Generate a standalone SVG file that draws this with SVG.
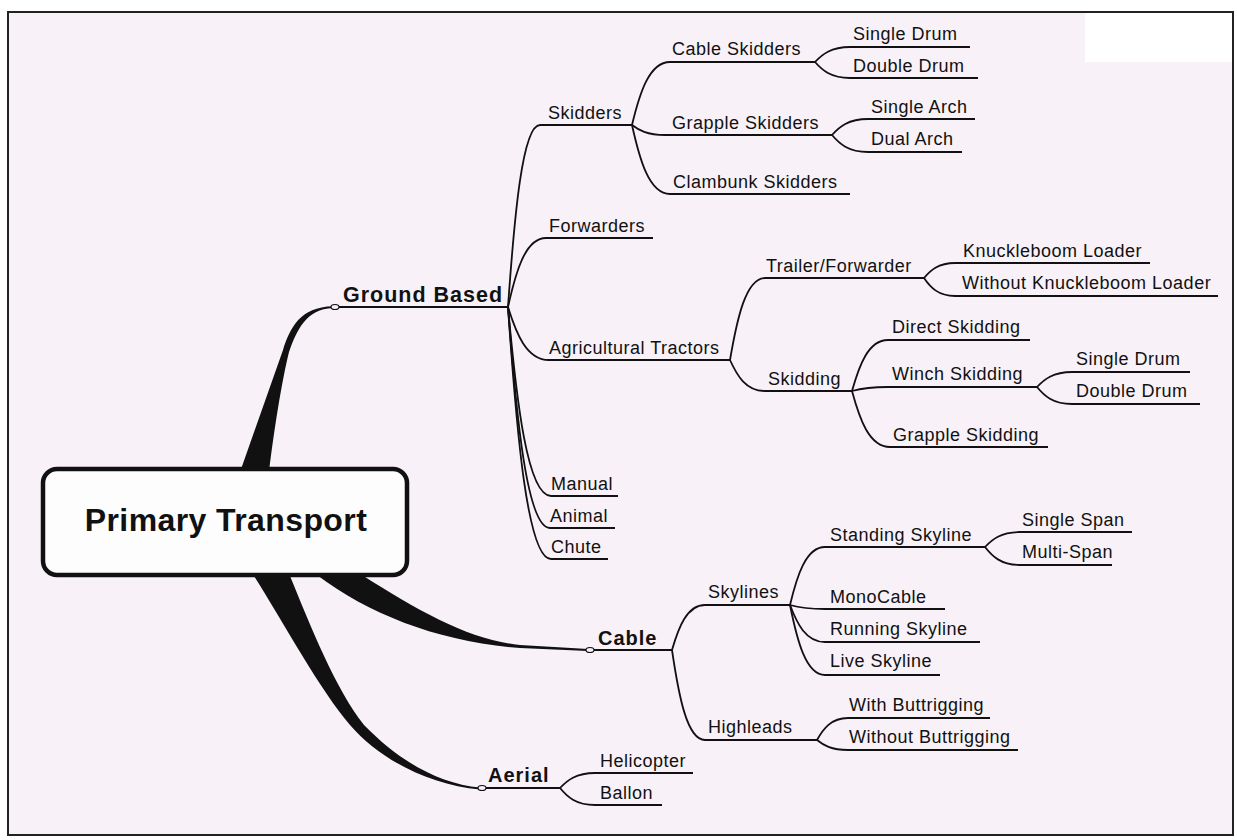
<svg xmlns="http://www.w3.org/2000/svg" width="1237" height="840" viewBox="0 0 1237 840">
<style>
.t{font-family:"Liberation Sans",Arial,sans-serif;font-size:18px;letter-spacing:0.5px;fill:#111}
.b{font-weight:bold;font-size:20px;letter-spacing:1px}
.gb{font-size:21.5px;letter-spacing:1px}
.ln{fill:none;stroke:#111;stroke-width:1.8}
.ul{fill:none;stroke:#111;stroke-width:1.8}
.wedge{fill:#111;stroke:none}
.dot{fill:#f8f2f8;stroke:#111;stroke-width:1.2}
</style>
<rect x="0" y="0" width="1237" height="840" fill="#ffffff"/>
<rect x="8" y="12" width="1225" height="823" fill="#f8f2f8"/>
<rect x="1085" y="13" width="147" height="49" fill="#ffffff"/>
<rect x="8" y="12" width="1225" height="823" fill="none" stroke="#222" stroke-width="2"/>

<g id="connectors">
<path class="wedge" d="M240,472 L283,350 C290,328 300,307 333,306.3 L333,308 C306,309 297,330 289,352 C282,380 274,430 269,472 Z"/>
<path class="wedge" d="M317,575 C370,615 440,642 520,648 L588,651 L588,649 L520,645 C470,640 420,612 362,575 Z"/>
<path class="wedge" d="M254,576 C285,625 320,690 350,725 C380,760 430,785 480,789.5 L480,787.5 C440,784 400,762 364,725 C336,690 310,625 290,576 Z"/>
<path class="ln" d="M508,307 C514.4,216 522.4,125 540,125"/>
<path class="ln" d="M508,307 C515.6,272.5 525.1,238 546,238"/>
<path class="ln" d="M508,307 C516.2,333.5 526.5,360 549,360"/>
<path class="ln" d="M508,307 C516.6,401.5 527.4,496 551,496"/>
<path class="ln" d="M508,307 C516.4,417.5 526.9,528 550,528"/>
<path class="ln" d="M508,307 C516.6,433 527.4,559 551,559"/>
<path class="ln" d="M632,125 C639.6,93.5 649.1,62 670,62"/>
<path class="ln" d="M632,125 C638.6,130 646.9,135 665,135"/>
<path class="ln" d="M632,125 C639.6,159.5 649.1,194 670,194"/>
<path class="ln" d="M815,62 C822,54.5 830.8,47 850,47"/>
<path class="ln" d="M815,62 C822,70 830.8,78 850,78"/>
<path class="ln" d="M832,135 C839.2,127 848.2,119 868,119"/>
<path class="ln" d="M832,135 C839.2,143.5 848.2,152 868,152"/>
<path class="ln" d="M730,360 C737,319 745.8,278 765,278"/>
<path class="ln" d="M730,360 C737,375.5 745.8,391 765,391"/>
<path class="ln" d="M924,278 C930.2,270.5 938,263 955,263"/>
<path class="ln" d="M924,278 C930.2,287 938,296 955,296"/>
<path class="ln" d="M852,391 C859.2,365.5 868.2,340 888,340"/>
<path class="ln" d="M852,391 C859.2,389 868.2,387 888,387"/>
<path class="ln" d="M852,391 C859.6,419 869.1,447 890,447"/>
<path class="ln" d="M1037,387 C1044,379.5 1052.8,372 1072,372"/>
<path class="ln" d="M1037,387 C1044,395.5 1052.8,404 1072,404"/>
<path class="ln" d="M672,650 C678.6,627.5 686.9,605 705,605"/>
<path class="ln" d="M672,650 C678.6,695 686.9,740 705,740"/>
<path class="ln" d="M790,605 C797,576 805.8,547 825,547"/>
<path class="ln" d="M790,605 C797,607 805.8,609 825,609"/>
<path class="ln" d="M790,605 C797,623.5 805.8,642 825,642"/>
<path class="ln" d="M790,605 C797,640 805.8,675 825,675"/>
<path class="ln" d="M985,547 C992,539.5 1000.8,532 1020,532"/>
<path class="ln" d="M985,547 C992,556 1000.8,565 1020,565"/>
<path class="ln" d="M817,740 C823.2,729 831,718 848,718"/>
<path class="ln" d="M817,740 C823.2,745 831,750 848,750"/>
<path class="ln" d="M560,788 C567,780.5 575.8,773 595,773"/>
<path class="ln" d="M560,788 C567,796.5 575.8,805 595,805"/>
</g>

<g id="node-primary-transport">
<rect x="43" y="469" width="364" height="106" rx="14" fill="#fdfdfd" stroke="#111" stroke-width="4.5"/>
<text x="226" y="531" text-anchor="middle" style="font-family:'Liberation Sans',Arial,sans-serif;font-size:32px;font-weight:bold;letter-spacing:0.4px;fill:#111">Primary Transport</text>
</g>

<g id="node-ground-based"><line class="ul" x1="335" y1="307" x2="508" y2="307"/><ellipse class="dot" cx="335" cy="307" rx="4" ry="2.5"/><text class="t b gb" x="343" y="302">Ground Based</text></g>
<g id="node-skidders"><line class="ul" x1="540" y1="125" x2="632" y2="125"/><text class="t" x="548" y="119">Skidders</text></g>
<g id="node-forwarders"><line class="ul" x1="546" y1="238" x2="653" y2="238"/><text class="t" x="549" y="232">Forwarders</text></g>
<g id="node-agricultural-tractors"><line class="ul" x1="549" y1="360" x2="730" y2="360"/><text class="t" x="549" y="354">Agricultural Tractors</text></g>
<g id="node-manual"><line class="ul" x1="551" y1="496" x2="618" y2="496"/><text class="t" x="551" y="490">Manual</text></g>
<g id="node-animal"><line class="ul" x1="550" y1="528" x2="615" y2="528"/><text class="t" x="550" y="522">Animal</text></g>
<g id="node-chute"><line class="ul" x1="551" y1="559" x2="608" y2="559"/><text class="t" x="551" y="553">Chute</text></g>
<g id="node-cable-skidders"><line class="ul" x1="670" y1="62" x2="815" y2="62"/><text class="t" x="672" y="55">Cable Skidders</text></g>
<g id="node-grapple-skidders"><line class="ul" x1="665" y1="135" x2="832" y2="135"/><text class="t" x="672" y="129">Grapple Skidders</text></g>
<g id="node-clambunk-skidders"><line class="ul" x1="670" y1="194" x2="850" y2="194"/><text class="t" x="673" y="188">Clambunk Skidders</text></g>
<g id="node-cs-single-drum"><line class="ul" x1="850" y1="47" x2="970" y2="47"/><text class="t" x="853" y="40">Single Drum</text></g>
<g id="node-cs-double-drum"><line class="ul" x1="850" y1="78" x2="978" y2="78"/><text class="t" x="853" y="72">Double Drum</text></g>
<g id="node-single-arch"><line class="ul" x1="868" y1="119" x2="975" y2="119"/><text class="t" x="871" y="113">Single Arch</text></g>
<g id="node-dual-arch"><line class="ul" x1="868" y1="152" x2="962" y2="152"/><text class="t" x="871" y="145">Dual Arch</text></g>
<g id="node-trailer-forwarder"><line class="ul" x1="765" y1="278" x2="924" y2="278"/><text class="t" x="766" y="272">Trailer/Forwarder</text></g>
<g id="node-knuckleboom-loader"><line class="ul" x1="955" y1="263" x2="1150" y2="263"/><text class="t" x="963" y="257">Knuckleboom Loader</text></g>
<g id="node-without-knuckleboom-loader"><line class="ul" x1="955" y1="296" x2="1218" y2="296"/><text class="t" x="962" y="289">Without Knuckleboom Loader</text></g>
<g id="node-skidding"><line class="ul" x1="765" y1="391" x2="852" y2="391"/><text class="t" x="768" y="385">Skidding</text></g>
<g id="node-direct-skidding"><line class="ul" x1="888" y1="340" x2="1030" y2="340"/><text class="t" x="892" y="333">Direct Skidding</text></g>
<g id="node-winch-skidding"><line class="ul" x1="888" y1="387" x2="1037" y2="387"/><text class="t" x="892" y="380">Winch Skidding</text></g>
<g id="node-grapple-skidding"><line class="ul" x1="890" y1="447" x2="1048" y2="447"/><text class="t" x="893" y="441">Grapple Skidding</text></g>
<g id="node-ws-single-drum"><line class="ul" x1="1072" y1="372" x2="1190" y2="372"/><text class="t" x="1076" y="365">Single Drum</text></g>
<g id="node-ws-double-drum"><line class="ul" x1="1072" y1="404" x2="1200" y2="404"/><text class="t" x="1076" y="397">Double Drum</text></g>
<g id="node-cable"><line class="ul" x1="590" y1="650" x2="672" y2="650"/><ellipse class="dot" cx="590" cy="650" rx="4" ry="2.5"/><text class="t b" x="598" y="645">Cable</text></g>
<g id="node-skylines"><line class="ul" x1="705" y1="605" x2="790" y2="605"/><text class="t" x="708" y="598">Skylines</text></g>
<g id="node-highleads"><line class="ul" x1="705" y1="740" x2="817" y2="740"/><text class="t" x="708" y="733">Highleads</text></g>
<g id="node-standing-skyline"><line class="ul" x1="825" y1="547" x2="985" y2="547"/><text class="t" x="830" y="541">Standing Skyline</text></g>
<g id="node-monocable"><line class="ul" x1="825" y1="609" x2="945" y2="609"/><text class="t" x="830" y="603">MonoCable</text></g>
<g id="node-running-skyline"><line class="ul" x1="825" y1="642" x2="980" y2="642"/><text class="t" x="830" y="635">Running Skyline</text></g>
<g id="node-live-skyline"><line class="ul" x1="825" y1="675" x2="940" y2="675"/><text class="t" x="830" y="667">Live Skyline</text></g>
<g id="node-single-span"><line class="ul" x1="1020" y1="532" x2="1132" y2="532"/><text class="t" x="1022" y="526">Single Span</text></g>
<g id="node-multi-span"><line class="ul" x1="1020" y1="565" x2="1112" y2="565"/><text class="t" x="1022" y="558">Multi-Span</text></g>
<g id="node-with-buttrigging"><line class="ul" x1="848" y1="718" x2="990" y2="718"/><text class="t" x="849" y="711">With Buttrigging</text></g>
<g id="node-without-buttrigging"><line class="ul" x1="848" y1="750" x2="1018" y2="750"/><text class="t" x="849" y="743">Without Buttrigging</text></g>
<g id="node-aerial"><line class="ul" x1="482" y1="788" x2="560" y2="788"/><ellipse class="dot" cx="482" cy="788" rx="4" ry="2.5"/><text class="t b" x="488" y="782">Aerial</text></g>
<g id="node-helicopter"><line class="ul" x1="595" y1="773" x2="693" y2="773"/><text class="t" x="600" y="767">Helicopter</text></g>
<g id="node-ballon"><line class="ul" x1="595" y1="805" x2="662" y2="805"/><text class="t" x="600" y="799">Ballon</text></g>
</svg>
